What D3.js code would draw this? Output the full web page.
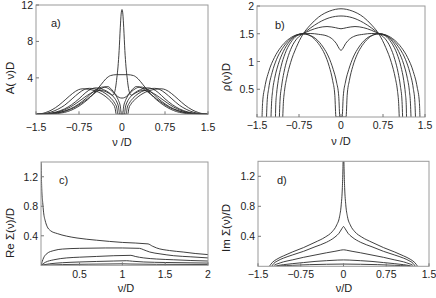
<html>
<head>
    <style>
        body { margin: 0; background: #ffffff; font-family: "Liberation Sans", Arial, sans-serif; }
        svg text { fill: #222; }
    </style>
    <script src="https://cdn.jsdelivr.net/npm/d3@7"></script>
</head>
<body>
<svg id="Figura"></svg>
<script>
    // ---- datos (mitad derecha, nu >= 0; las curvas son simetricas) ----
    const ticksSimetricos = [-1.5, -0.75, 0, 0.75, 1.5];
    const ticksPositivos = [0.5, 1, 1.5, 2];
    const ticksYA = [4, 8, 12];
    const ticksYB = [0.5, 1, 1.5, 2];
    const ticksYSigma = [0.4, 0.8, 1.2];

    // a) A(nu)D
    const espectroA = [
        [[0,11.5],[0.015,11.0],[0.03,9.5],[0.05,7.0],[0.07,5.2],[0.09,4.0],[0.11,3.0],[0.13,2.4],[0.16,2.1],[0.2,2.2],[0.27,2.45],[0.35,2.6],[0.42,2.6],[0.5,2.45],[0.6,2.1],[0.7,1.65],[0.8,1.2],[0.9,0.8],[1.0,0.5],[1.1,0.28],[1.25,0.1],[1.5,0]],
        [[0,4.35],[0.1,4.35],[0.2,4.25],[0.28,3.9],[0.36,3.3],[0.45,2.6],[0.55,1.9],[0.65,1.35],[0.75,0.9],[0.85,0.55],[0.95,0.3],[1.05,0.15],[1.2,0.05],[1.5,0]],
        [[0,1.78],[0.05,1.85],[0.1,2.1],[0.15,2.5],[0.2,2.85],[0.25,3.05],[0.3,3.0],[0.38,2.75],[0.5,2.2],[0.6,1.7],[0.7,1.25],[0.8,0.85],[0.9,0.55],[1.0,0.32],[1.1,0.17],[1.25,0.06],[1.5,0]],
        [[0.01,0],[0.03,0.9],[0.06,1.5],[0.1,2.0],[0.16,2.45],[0.23,2.8],[0.32,3.0],[0.4,2.9],[0.5,2.5],[0.62,1.8],[0.75,1.15],[0.9,0.6],[1.05,0.28],[1.2,0.1],[1.35,0.03],[1.5,0]],
        [[0.04,0],[0.06,0.8],[0.09,1.35],[0.14,1.85],[0.22,2.35],[0.32,2.7],[0.45,2.9],[0.53,2.8],[0.63,2.4],[0.75,1.7],[0.88,1.05],[1.0,0.6],[1.15,0.25],[1.3,0.08],[1.5,0]],
        [[0.07,0],[0.09,0.7],[0.13,1.25],[0.19,1.75],[0.28,2.25],[0.4,2.65],[0.57,2.85],[0.65,2.75],[0.75,2.35],[0.87,1.7],[1.0,1.0],[1.12,0.55],[1.25,0.22],[1.38,0.06],[1.5,0]],
        [[0.1,0],[0.12,0.65],[0.16,1.15],[0.23,1.65],[0.33,2.15],[0.48,2.6],[0.68,2.8],[0.76,2.7],[0.86,2.3],[0.98,1.65],[1.1,1.0],[1.22,0.5],[1.33,0.2],[1.42,0.05],[1.5,0]]
    ];

    // b) rho(nu)D
    const densidadB = [
        [[0,1.95],[0.2,1.91],[0.4,1.8],[0.55,1.655],[0.68,1.49],[0.8,1.25],[0.9,0.98],[0.97,0.7],[1.01,0.46],[1.03,0.24],[1.04,0]],
        [[0,1.82],[0.2,1.79],[0.4,1.7],[0.55,1.6],[0.68,1.5],[0.78,1.42],[0.88,1.26],[0.96,1.04],[1.02,0.8],[1.06,0.56],[1.09,0.28],[1.1,0]],
        [[0,1.59],[0.1,1.61],[0.25,1.63],[0.4,1.61],[0.55,1.56],[0.68,1.5],[0.8,1.455],[0.9,1.34],[1.0,1.14],[1.07,0.91],[1.12,0.66],[1.15,0.42],[1.165,0.22],[1.17,0]],
        [[0,1.2],[0.03,1.23],[0.08,1.32],[0.15,1.4],[0.25,1.46],[0.4,1.49],[0.55,1.505],[0.68,1.5],[0.8,1.47],[0.92,1.36],[1.03,1.18],[1.12,0.95],[1.18,0.72],[1.22,0.48],[1.24,0.25],[1.25,0]],
        [[0.02,0],[0.04,0.37],[0.08,0.63],[0.14,0.86],[0.22,1.08],[0.32,1.26],[0.45,1.41],[0.58,1.48],[0.68,1.5],[0.8,1.47],[0.93,1.38],[1.05,1.23],[1.15,1.04],[1.23,0.8],[1.29,0.52],[1.32,0.26],[1.33,0]],
        [[0.09,0],[0.11,0.39],[0.15,0.66],[0.21,0.91],[0.29,1.13],[0.38,1.29],[0.48,1.41],[0.58,1.48],[0.68,1.5],[0.82,1.47],[0.95,1.39],[1.08,1.25],[1.19,1.07],[1.29,0.82],[1.36,0.54],[1.4,0.26],[1.41,0]]
    ];

    // c) Re Sigma(nu)/D, solo nu > 0
    const sigmaReal = [
        [[0.05,1.6],[0.055,1.2],[0.06,1.0],[0.07,0.85],[0.08,0.72],[0.1,0.6],[0.12,0.53],[0.16,0.47],[0.24,0.43],[0.35,0.395],[0.47,0.37],[0.7,0.34],[1.0,0.31],[1.3,0.29],[1.35,0.26],[1.4,0.235],[1.55,0.2],[1.71,0.18],[1.85,0.16],[2.0,0.145]],
        [[0.05,0],[0.08,0.1],[0.12,0.16],[0.2,0.2],[0.3,0.22],[0.5,0.23],[0.8,0.235],[1.0,0.235],[1.2,0.23],[1.25,0.21],[1.32,0.18],[1.44,0.155],[1.6,0.13],[1.8,0.115],[2.0,0.1]],
        [[0.05,0],[0.1,0.04],[0.2,0.075],[0.35,0.1],[0.5,0.11],[0.7,0.12],[0.9,0.13],[1.1,0.135],[1.15,0.12],[1.25,0.1],[1.4,0.085],[1.6,0.075],[1.8,0.065],[2.0,0.058]],
        [[0.05,0],[0.15,0.02],[0.3,0.035],[0.5,0.045],[0.7,0.052],[0.9,0.058],[1.05,0.062],[1.12,0.055],[1.25,0.045],[1.5,0.038],[2.0,0.03]],
        [[0.05,0],[0.3,0.01],[0.6,0.015],[1.0,0.02],[1.1,0.017],[1.4,0.013],[2.0,0.01]]
    ];

    // d) Im Sigma(nu)/D
    const sigmaImag = [
        [[0,1.8],[0.003,1.6],[0.01,1.3],[0.02,1.05],[0.04,0.82],[0.07,0.66],[0.12,0.55],[0.2,0.46],[0.32,0.39],[0.5,0.32],[0.7,0.25],[0.9,0.19],[1.05,0.14],[1.18,0.09],[1.25,0.05],[1.3,0]],
        [[0,0.53],[0.03,0.5],[0.08,0.44],[0.15,0.39],[0.3,0.32],[0.5,0.26],[0.7,0.2],[0.9,0.15],[1.05,0.11],[1.15,0.075],[1.22,0.04],[1.26,0]],
        [[0,0.22],[0.05,0.215],[0.15,0.2],[0.3,0.18],[0.5,0.15],[0.7,0.12],[0.9,0.085],[1.05,0.06],[1.15,0.035],[1.21,0.015],[1.23,0]],
        [[0,0.085],[0.1,0.083],[0.3,0.075],[0.5,0.065],[0.7,0.05],[0.9,0.035],[1.05,0.022],[1.15,0.01],[1.2,0]],
        [[0,0.03],[0.3,0.027],[0.6,0.022],[0.9,0.013],[1.1,0.006],[1.17,0]]
    ];

    const ancho = 436;
    const alto = 298;

    let contenedor = d3.select("#Figura")
        .attr("width", ancho)
        .attr("height", alto);

    //Convierte la mitad nu>=0 en la curva completa
    function espejo(mitad) {
        let izquierda = mitad.filter(p => p[0] > 0).map(p => [-p[0], p[1]]).reverse();
        return izquierda.concat(mitad);
    }

    function etiqueta(v) {
        return v < 0 ? "\u2212" + Math.abs(v) : String(v);
    }

    function dibujarPanel(cfg) {
        let { id, x0, x1, y0, y1, dominioX, dominioY, ticksX, ticksY, curvas, simetrico,
              tituloY, tituloYPos, tituloX, tituloXPos, letra, letraPos, baseTicksX } = cfg;

        let escalaX = d3.scaleLinear().domain(dominioX).range([x0, x1]);
        let escalaY = d3.scaleLinear().domain(dominioY).range([y0, y1]);

        contenedor.append("clipPath").attr("id", "recorte" + id)
            .append("rect")
            .attr("x", x0).attr("y", y1)
            .attr("width", x1 - x0).attr("height", y0 - y1);

        let linea = d3.line()
            .x(d => escalaX(d[0]))
            .y(d => escalaY(d[1]))
            .curve(d3.curveMonotoneX);

        let datos = simetrico ? curvas.map(espejo) : curvas;

        contenedor.append("g")
            .attr("clip-path", `url(#recorte${id})`)
            .selectAll("path")
            .data(datos)
            .enter().append("path")
                .attr("d", linea)
                .attr("fill", "none")
                .attr("stroke", "#2a2a2a")
                .attr("stroke-width", 0.9);

        // marco gris
        contenedor.append("rect")
            .attr("x", x0).attr("y", y1)
            .attr("width", x1 - x0).attr("height", y0 - y1)
            .attr("fill", "none")
            .attr("stroke", "#9a9a9a")
            .attr("stroke-width", 1);

        // ticks hacia dentro
        let g = contenedor.append("g");
        g.selectAll(".tx").data(ticksX).enter().append("line")
            .attr("x1", d => escalaX(d)).attr("x2", d => escalaX(d))
            .attr("y1", y0).attr("y2", y0 - 3)
            .attr("stroke", "#777");
        g.selectAll(".ty").data(ticksY).enter().append("line")
            .attr("x1", x0).attr("x2", x0 + 3)
            .attr("y1", d => escalaY(d)).attr("y2", d => escalaY(d))
            .attr("stroke", "#777");

        g.selectAll(".lx").data(ticksX).enter().append("text")
            .attr("x", d => escalaX(d))
            .attr("y", baseTicksX)
            .attr("text-anchor", "middle")
            .attr("font-size", 10.5)
            .text(etiqueta);
        g.selectAll(".ly").data(ticksY).enter().append("text")
            .attr("x", x0 - 3)
            .attr("y", d => escalaY(d) + 4)
            .attr("text-anchor", "end")
            .attr("font-size", 10.5)
            .text(etiqueta);

        contenedor.append("text")
            .attr("transform", `translate(${tituloYPos[0]},${tituloYPos[1]}) rotate(-90)`)
            .attr("text-anchor", "middle")
            .attr("font-size", 11.5)
            .text(tituloY);
        contenedor.append("text")
            .attr("x", tituloXPos[0]).attr("y", tituloXPos[1])
            .attr("text-anchor", "middle")
            .attr("font-size", 11)
            .text(tituloX);
        contenedor.append("text")
            .attr("x", letraPos[0]).attr("y", letraPos[1])
            .attr("font-size", 11)
            .text(letra);
    }

    dibujarPanel({ id: "a", x0: 36, x1: 208, y0: 114.3, y1: 5, dominioX: [-1.5, 1.5], dominioY: [0, 12],
        ticksX: ticksSimetricos, ticksY: ticksYA, curvas: espectroA, simetrico: true, baseTicksX: 130.5,
        tituloY: "A( \u03bd)D", tituloYPos: [14, 78], tituloX: "\u03bd /D", tituloXPos: [122, 146],
        letra: "a)", letraPos: [51, 27] });

    dibujarPanel({ id: "b", x0: 257, x1: 425, y0: 117, y1: 6, dominioX: [-1.5, 1.5], dominioY: [0, 2],
        ticksX: ticksSimetricos, ticksY: ticksYB, curvas: densidadB, simetrico: true, baseTicksX: 129,
        tituloY: "\u03c1(\u03bd)D", tituloYPos: [230, 77], tituloX: "\u03bd /D", tituloXPos: [341, 144.5],
        letra: "b)", letraPos: [275, 29] });

    dibujarPanel({ id: "c", x0: 41, x1: 208, y0: 265.3, y1: 162, dominioX: [0.05, 2], dominioY: [0, 1.4],
        ticksX: ticksPositivos, ticksY: ticksYSigma, curvas: sigmaReal, simetrico: false, baseTicksX: 277.5,
        tituloY: "Re  \u03a3(\u03bd)/D", tituloYPos: [14, 233], tituloX: "\u03bd/D", tituloXPos: [126, 292],
        letra: "c)", letraPos: [59, 184] });

    dibujarPanel({ id: "d", x0: 258, x1: 429, y0: 266.3, y1: 161.3, dominioX: [-1.5, 1.5], dominioY: [0, 1.4],
        ticksX: ticksSimetricos, ticksY: ticksYSigma, curvas: sigmaImag, simetrico: true, baseTicksX: 278,
        tituloY: "Im \u03a3(\u03bd)/D", tituloYPos: [230, 228], tituloX: "\u03bd/D", tituloXPos: [344, 292],
        letra: "d)", letraPos: [277, 184] });
</script>
</body>
</html>
